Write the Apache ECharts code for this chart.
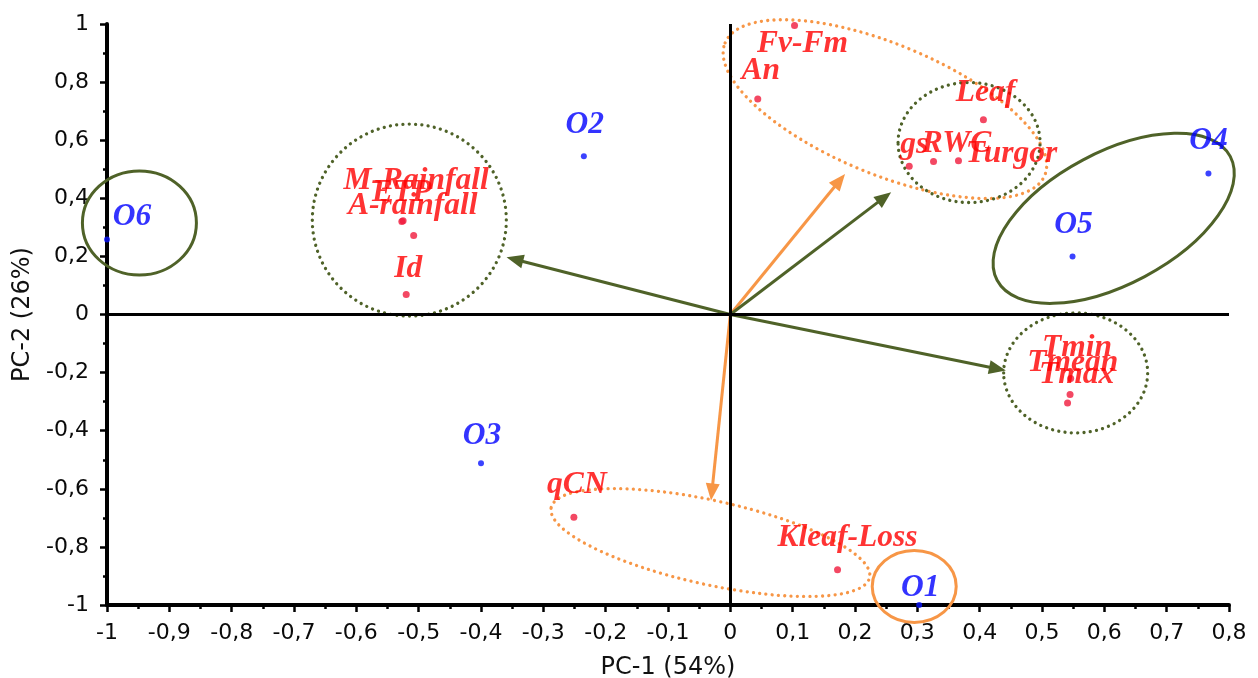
<!DOCTYPE html>
<html><head><meta charset="utf-8">
<script src="https://cdn.jsdelivr.net/npm/echarts@6/dist/echarts.min.js"></script>
<style>html,body{margin:0;padding:0;background:#fff}#c{width:1258px;height:678px}</style>
</head><body><div id="c"></div>
<script>
// ---------- DATA ----------
// Observations (PC-1, PC-2)
const obsNames = ['O1', 'O2', 'O3', 'O4', 'O5', 'O6'];
const obsX = [0.303, -0.235, -0.400, 0.767, 0.549, -1.000];
const obsY = [-1.000, 0.545, -0.512, 0.485, 0.200, 0.258];

// Variables (PC-1, PC-2)
const varNames = ['Fv-Fm', 'An', 'Leaf', 'gs', 'RWC', 'Turgor', 'M-Rainfall', 'ETP', 'A-rainfall', 'Id', 'Tmin', 'Tmean', 'Tmax', 'qCN', 'Kleaf-Loss'];
const varX = [0.103, 0.044, 0.406, 0.287, 0.326, 0.366, -0.525, -0.527, -0.508, -0.520, 0.545, 0.546, 0.541, -0.251, 0.172];
const varY = [0.995, 0.742, 0.670, 0.510, 0.527, 0.529, 0.323, 0.320, 0.272, 0.069, -0.275, -0.220, -0.305, -0.698, -0.879];

// Direction arrows from the origin (tip coordinates)
const arrowX = [-0.359, 0.184, 0.258, 0.442, -0.031];
const arrowY = [0.197, 0.484, 0.421, -0.193, -0.640];
const arrowGroup = ['green', 'orange', 'green', 'green', 'orange'];

// Group ellipses (centres on PC-1 / PC-2)
const ellCx = [-0.948, -0.515, 0.248, 0.383, 0.615, 0.554, -0.032, 0.295];
const ellCy = [0.315, 0.325, 0.707, 0.592, 0.331, -0.201, -0.785, -0.936];

// Axis ticks
const xMin = -1, xMax = 0.8, xStep = 0.1;
const yMin = -1, yMax = 1, yStep = 0.2;
const xName = 'PC-1 (54%)', yName = 'PC-2 (26%)';

// ---------- STYLE ----------
const GREEN = '#4f6228', ORANGE = '#f79646';
const ellipseStyle = [
  { a: 57, b: 52, rot: 0, color: GREEN, dotted: false },
  { a: 97, b: 96, rot: 0, color: GREEN, dotted: true },
  { a: 173, b: 65, rot: -22.5, color: ORANGE, dotted: true },
  { a: 71, b: 60, rot: 0, color: GREEN, dotted: true },
  { a: 132, b: 66, rot: 28, color: GREEN, dotted: false },
  { a: 72, b: 60, rot: 0, color: GREEN, dotted: true },
  { a: 163, b: 42, rot: -12.4, color: ORANGE, dotted: true },
  { a: 42, b: 36, rot: 0, color: ORANGE, dotted: false }
];
const obsLabelOffset = { O1: [1, -17], O2: [1, -31], O3: [1, -27], O4: [0, -33], O5: [1, -32], O6: [25, -23] };
const varLabelOffset = {
  'Fv-Fm': [8, 18], 'An': [3, -28], 'Leaf': [2, -27], 'gs': [5, -21], 'RWC': [23, -18], 'Turgor': [53, -7],
  'M-Rainfall': [13, -40], 'ETP': [0, -29], 'A-rainfall': [-1, -30], 'Id': [2, -26],
  'Tmin': [7, -47], 'Tmean': [2, -16], 'Tmax': [9, -28], 'qCN': [3, -32], 'Kleaf-Loss': [10, -32]
};
const labelFont = { fontFamily: 'Liberation Serif', fontStyle: 'italic', fontWeight: 'bold', fontSize: 31.5 };
const fmt = v => String(+(+v).toFixed(2)).replace('.', ',');

const chart = echarts.init(document.getElementById('c'), null, { renderer: 'canvas' });

const axisCommon = {
  type: 'value',
  nameLocation: 'middle',
  nameTextStyle: { fontFamily: 'DejaVu Sans', fontSize: 24, color: '#111' },
  axisLine: { show: true, onZero: false, lineStyle: { color: '#000', width: 4 } },
  axisTick: { show: true, length: 7, lineStyle: { color: '#000', width: 2.5 } },
  minorTick: { show: true, splitNumber: 2, length: 4, lineStyle: { color: '#000', width: 2.5 } },
  splitLine: { show: false },
  axisLabel: { fontFamily: 'DejaVu Sans', fontSize: 22, color: '#0a0a0a', formatter: fmt }
};

function layoutFrom(names, offsets) {
  return function (params) {
    const off = offsets[names[params.dataIndex]] || [0, 0];
    return { dx: off[0], dy: off[1], hideOverlap: false, moveOverlap: null };
  };
}

chart.setOption({
  backgroundColor: '#fff',
  animation: false,
  grid: { left: 107, right: 29, top: 24, bottom: 73, containLabel: false, outerBoundsMode: 'none' },
  xAxis: Object.assign({}, axisCommon, {
    min: xMin, max: xMax, interval: xStep, name: xName, nameGap: 51,
    axisLabel: Object.assign({}, axisCommon.axisLabel, { margin: 17 })
  }),
  yAxis: Object.assign({}, axisCommon, {
    min: yMin, max: yMax, interval: yStep, name: yName, nameGap: 70,
    axisLabel: Object.assign({}, axisCommon.axisLabel, { margin: 18 })
  }),
  series: [
    {
      type: 'scatter', data: [], silent: true,
      markLine: {
        silent: true, symbol: 'none', animation: false,
        label: { show: false },
        lineStyle: { color: '#000', width: 3, type: 'solid' },
        data: [{ xAxis: 0 }, { yAxis: 0 }]
      }
    },
    {
      type: 'custom', name: 'groups', silent: true, clip: false,
      encode: { x: 0, y: 1 },
      data: ellCx.map((x, i) => [x, ellCy[i]]),
      renderItem(params, api) {
        const s = ellipseStyle[params.dataIndex];
        const c = api.coord([api.value(0), api.value(1)]);
        return {
          type: 'ellipse',
          x: c[0], y: c[1],
          rotation: s.rot * Math.PI / 180,
          shape: { cx: 0, cy: 0, rx: s.a, ry: s.b },
          style: {
            fill: null, stroke: s.color,
            lineWidth: s.dotted ? 3.3 : 3,
            lineDash: s.dotted ? [0.01, 6.3] : null,
            lineCap: 'round'
          }
        };
      }
    },
    {
      type: 'custom', name: 'arrows', silent: true, clip: false,
      encode: { x: 0, y: 1 },
      data: arrowX.map((x, i) => [x, arrowY[i]]),
      renderItem(params, api) {
        const color = arrowGroup[params.dataIndex] === 'green' ? GREEN : ORANGE;
        const p0 = api.coord([0, 0]);
        const p1 = api.coord([api.value(0), api.value(1)]);
        const dx = p1[0] - p0[0], dy = p1[1] - p0[1];
        const L = Math.hypot(dx, dy), ux = dx / L, uy = dy / L;
        const hl = 17, hw = 7;
        const bx = p1[0] - ux * hl, by = p1[1] - uy * hl;
        return {
          type: 'group',
          children: [
            { type: 'line', shape: { x1: p0[0], y1: p0[1], x2: bx + ux * 3, y2: by + uy * 3 }, style: { stroke: color, lineWidth: 3 } },
            { type: 'polygon', shape: { points: [[p1[0], p1[1]], [bx - uy * hw, by + ux * hw], [bx + uy * hw, by - ux * hw]] }, style: { fill: color } }
          ]
        };
      }
    },
    {
      type: 'scatter', name: 'variables', symbolSize: 7,
      itemStyle: { color: '#f01a3c' },
      label: Object.assign({ show: true, position: 'inside', align: 'center', verticalAlign: 'middle', color: '#ff0000', formatter: '{b}' }, labelFont),
      labelLayout: layoutFrom(varNames, varLabelOffset),
      data: varNames.map((n, i) => ({ name: n, value: [varX[i], varY[i]] })),
      z: 5
    },
    {
      type: 'scatter', name: 'observations', symbolSize: 6,
      itemStyle: { color: '#0a14ff' },
      label: Object.assign({ show: true, position: 'inside', align: 'center', verticalAlign: 'middle', color: '#0000ff', formatter: '{b}' }, labelFont),
      labelLayout: layoutFrom(obsNames, obsLabelOffset),
      data: obsNames.map((n, i) => ({ name: n, value: [obsX[i], obsY[i]] })),
      z: 5
    }
  ]
});
</script></body></html>
